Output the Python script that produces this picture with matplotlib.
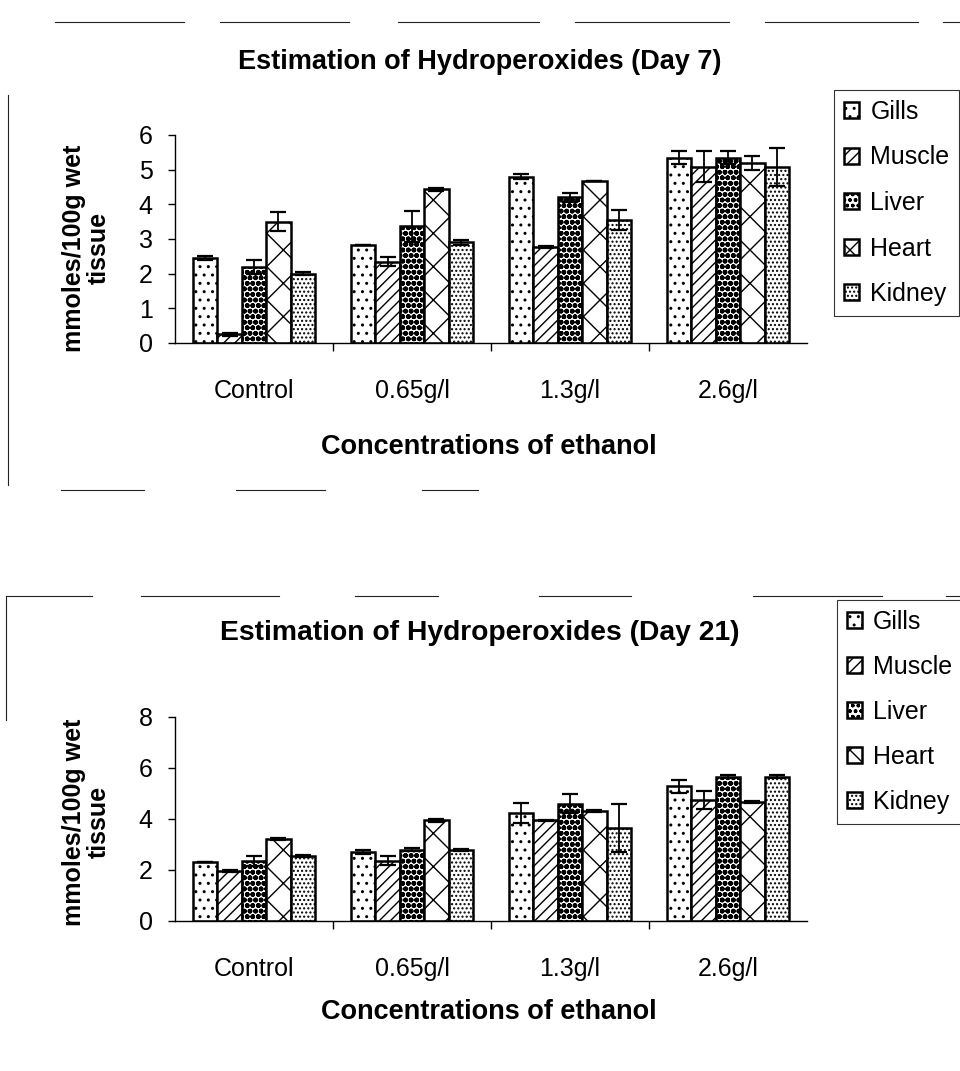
import matplotlib
matplotlib.use("Agg")
import matplotlib.pyplot as plt
from matplotlib.lines import Line2D
import numpy as np

plt.rcParams['font.family'] = ['Liberation Sans', 'DejaVu Sans']
plt.rcParams['hatch.linewidth'] = 1.0

# Groups and tissues
concentrations = ["Control", "0.65g/l", "1.3g/l", "2.6g/l"]
tissues = ["Gills", "Muscle", "Liver", "Heart", "Kidney"]

# Day 7 means per tissue across concentrations, with SE
day7_gills = [2.45, 2.82, 4.80, 5.35]
day7_muscle = [0.25, 2.35, 2.76, 5.08]
day7_liver = [2.20, 3.37, 4.20, 5.35]
day7_heart = [3.50, 4.43, 4.68, 5.20]
day7_kidney = [2.00, 2.90, 3.55, 5.08]

day7_gills_err = [0.05, 0.0, 0.08, 0.20]
day7_muscle_err = [0.05, 0.13, 0.03, 0.45]
day7_liver_err = [0.20, 0.45, 0.12, 0.18]
day7_heart_err = [0.28, 0.05, 0.0, 0.20]
day7_kidney_err = [0.05, 0.08, 0.28, 0.55]

# Day 21 means and SE
day21_gills = [2.30, 2.70, 4.22, 5.27]
day21_muscle = [1.95, 2.35, 3.93, 4.75]
day21_liver = [2.35, 2.79, 4.58, 5.65]
day21_heart = [3.20, 3.93, 4.30, 4.65]
day21_kidney = [2.53, 2.79, 3.63, 5.65]

day21_gills_err = [0.0, 0.08, 0.38, 0.25]
day21_muscle_err = [0.05, 0.18, 0.03, 0.35]
day21_liver_err = [0.20, 0.05, 0.37, 0.05]
day21_heart_err = [0.03, 0.04, 0.03, 0.03]
day21_kidney_err = [0.05, 0.04, 0.95, 0.05]

hatches = ['..', '///', 'ooo', 'x', '....']

W, H = 960, 1071
fig = plt.figure(figsize=(W / 100, H / 100), dpi=100)


def fx(px):
    return px / W


def fy(py):
    return 1 - py / H


def px_rect(x0, y_top, x1, y_bot):
    return [fx(x0), fy(y_bot), (x1 - x0) / W, (y_bot - y_top) / H]


def draw_panel(ax, means, errs, ymax, ystep, title, title_size, title_y,
               xlabel_y, ylabel_y, leg_anchor, leg_spacing):
    n = len(means)
    width = 0.155
    x = np.arange(len(concentrations))
    handles = []
    for i, (vals, err) in enumerate(zip(means, errs)):
        pos = x + (i - (n - 1) / 2) * width
        bars = ax.bar(pos, vals, width, color='white', edgecolor='black',
                      linewidth=1.8, hatch=hatches[i], label=tissues[i], zorder=2)
        if hatches[i] == 'ooo':
            for b in bars:
                try:
                    b.set_hatch_linewidth(1.8)
                except AttributeError:
                    pass
        ax.errorbar(pos, vals, yerr=err, fmt='none', ecolor='black',
                    elinewidth=1.3, capsize=5.5, capthick=1.6, zorder=3)
        handles.append(bars)
    ax.set_xlim(-0.5, len(concentrations) - 0.5)
    ax.set_ylim(0, ymax)
    ticks = np.arange(0, ymax + 0.01, ystep)
    ax.set_yticks(ticks)
    ax.set_yticklabels([f"{v:g}" for v in ticks])
    ax.set_xticks(x)
    ax.set_xticklabels(concentrations)
    ax.set_xticks(x[:-1] + 0.5, minor=True)
    ax.tick_params(axis='x', which='major', length=0, pad=26, labelsize=18)
    ax.tick_params(axis='x', which='minor', length=6, width=1, direction='out')
    ax.tick_params(axis='y', length=5, width=1, pad=11, labelsize=18)
    for s in ['top', 'right']:
        ax.spines[s].set_visible(False)
    for s in ['left', 'bottom']:
        ax.spines[s].set_linewidth(1.0)
    fig.text(0.5, fy(title_y), title, ha='center', va='center',
             fontsize=title_size, fontweight='bold')
    fig.text(fx(489), fy(xlabel_y), "Concentrations of ethanol", ha='center',
             va='center', fontsize=19.5, fontweight='bold')
    fig.text(fx(86), fy(ylabel_y), "mmoles/100g wet\ntissue", ha='center',
             va='center', rotation=90, fontsize=18, fontweight='bold',
             linespacing=1.05, multialignment='center')
    leg = fig.legend(handles=handles, labels=tissues, loc='upper left',
                     bbox_to_anchor=(fx(leg_anchor[0]), fy(leg_anchor[1])),
                     frameon=True, fancybox=False, fontsize=18,
                     handlelength=0.6, handleheight=0.6, handletextpad=0.45,
                     labelspacing=leg_spacing, borderpad=0.4, borderaxespad=0)
    leg.get_frame().set_edgecolor('black')
    leg.get_frame().set_linewidth(0.8)
    return ax


ax1 = fig.add_axes(px_rect(175, 135, 807, 343))
draw_panel(ax1,
           [day7_gills, day7_muscle, day7_liver, day7_heart, day7_kidney],
           [day7_gills_err, day7_muscle_err, day7_liver_err, day7_heart_err, day7_kidney_err],
           6, 1, "Estimation of Hydroperoxides (Day 7)", 19.5, 62, 447, 248,
           (834, 90), 0.86)

ax2 = fig.add_axes(px_rect(175, 716.7, 807, 920.7))
draw_panel(ax2,
           [day21_gills, day21_muscle, day21_liver, day21_heart, day21_kidney],
           [day21_gills_err, day21_muscle_err, day21_liver_err, day21_heart_err, day21_kidney_err],
           8, 2, "Estimation of Hydroperoxides (Day 21)", 20.3, 633, 1012, 822,
           (837, 600), 0.84)

# Chart-area borders, drawn as broken strokes
border_segments = [
    ((55, 184), (22, 22)), ((220, 349), (22, 22)), ((398, 539), (22, 22)),
    ((575, 729), (22, 22)), ((765, 918), (22, 22)), ((943, 960), (22, 22)),
    ((8, 8), (95, 485)),
    ((61, 144), (490, 490)), ((236, 325), (490, 490)), ((422, 478), (490, 490)),
    ((6, 92), (596, 596)), ((141, 279), (596, 596)), ((355, 438), (596, 596)),
    ((539, 631), (596, 596)), ((753, 882), (596, 596)), ((946, 960), (596, 596)),
    ((6, 6), (596, 720)),
]
for xs, ys in border_segments:
    fig.add_artist(Line2D([fx(v) for v in xs], [fy(v) for v in ys],
                          color='#222222', linewidth=0.8))

fig.savefig("out.png", dpi=100)
